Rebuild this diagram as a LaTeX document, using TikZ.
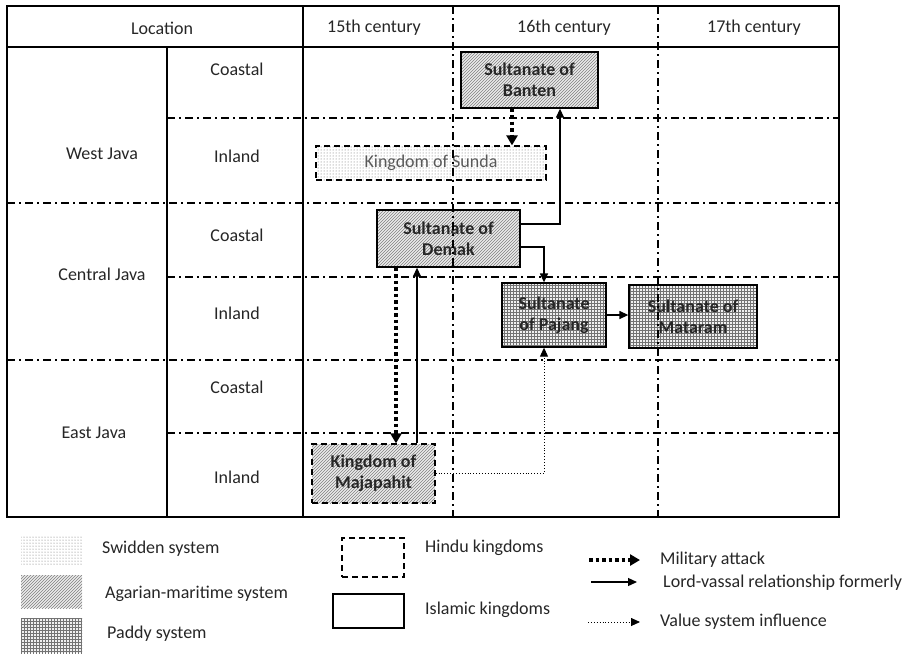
\documentclass[tikz,border=0pt]{standalone}
\usepackage{fontspec}
\setmainfont{Carlito}
\usetikzlibrary{patterns, arrows.meta}

\begin{document}
\begin{tikzpicture}[x=1pt, y=-1pt,
    every node/.style={font=\fontsize{18}{21}\selectfont, text=black!85},
    kingdom/.style={rectangle, draw, line width=1.3pt, align=center, inner sep=0pt, font=\fontsize{18}{21}\selectfont\bfseries},
    hindu/.style={kingdom, dash pattern=on 6pt off 4pt},
    islamic/.style={kingdom},
    swidden/.style={pattern=dots, pattern color=black!60},
    maritime/.style={preaction={fill=black!8}, pattern=north east lines, pattern color=black!50},
    paddy/.style={preaction={fill=black!6}, pattern=grid, pattern color=black!55},
    label/.style={anchor=west, inner sep=0pt},
    border/.style={line width=1.3pt},
    divider/.style={line width=1.2pt, dash pattern=on 8pt off 4pt on 2pt off 4pt},
    attack/.style={line width=3.5pt, dash pattern=on 3.5pt off 3pt, ->, >={Triangle[length=10pt,width=11pt]}},
    vassal/.style={line width=1.3pt, ->, >={Triangle[length=9pt,width=8pt]}},
    influence/.style={line width=0.9pt, dotted, ->, >={Triangle[length=9pt,width=8pt]}}]

    \useasboundingbox (0,0) rectangle (912,654);

    % Table frame
    \draw [border] (7,6) rectangle (839,517);
    \draw [border] (7,47) -- (839,47);
    \draw [border] (167,47) -- (167,517);
    \draw [border] (303,6) -- (303,517);

    % Header
    \node (loc) at (162,28) {Location};
    \node (c15) at (374,28) {15th century};
    \node (c16) at (564,28) {16th century};
    \node (c17) at (754,28) {17th century};

    % Regions
    \node (west) at (102,154) {West Java};
    \node (central) at (102,274) {Central Java};
    \node (east) at (94,433) {East Java};
    \node (wcoast) at (237,69) {Coastal};
    \node (winland) at (237,156) {Inland};
    \node (ccoast) at (237,235) {Coastal};
    \node (cinland) at (237,313) {Inland};
    \node (ecoast) at (237,387) {Coastal};
    \node (einland) at (237,477) {Inland};

    % Kingdoms
    \node [islamic, maritime, minimum width=137pt, minimum height=56pt] (banten) at (529.5,80) {Sultanate of\\Banten};
    \node [hindu, swidden, font=\fontsize{18}{21}\selectfont, text=black!65, minimum width=230pt, minimum height=34pt] (sunda) at (431,163) {Kingdom of Sunda};
    \node [islamic, maritime, minimum width=143pt, minimum height=57pt] (demak) at (448.5,238.5) {Sultanate of\\Demak};
    \node [islamic, paddy, minimum width=104pt, minimum height=64pt] (pajang) at (554,315) {Sultanate\\of Pajang};
    \node [islamic, paddy, minimum width=128pt, minimum height=63pt] (mataram) at (693,316.5) {Sultanate of\\Mataram};
    \node [hindu, maritime, minimum width=123pt, minimum height=59pt] (majapahit) at (373.5,473.5) {Kingdom of\\Majapahit};

    % Dividers (over the boxes)
    \draw [divider] (167,118) -- (839,118);
    \draw [divider] (7,203) -- (839,203);
    \draw [divider] (167,277) -- (839,277);
    \draw [divider] (7,360) -- (839,360);
    \draw [divider] (167,433) -- (839,433);
    \draw [divider] (453,6) -- (453,517);
    \draw [divider] (658,6) -- (658,517);

    % Arrows
    \draw [attack] ([xshift=-17.5pt]banten.south) -- ([xshift=-17.5pt]banten.south |- sunda.north);
    \draw [vassal] ([yshift=14.5pt]demak.east) -| ([xshift=30.5pt]banten.south);
    \draw [vassal] ([yshift=-8.5pt]demak.east) -| ([xshift=-10pt]pajang.north);
    \draw [vassal] (pajang.east) -- (pajang.east -| mataram.west);
    \draw [attack] ([xshift=-52.5pt]demak.south) -- ([xshift=-52.5pt]demak.south |- majapahit.north);
    \draw [vassal] ([xshift=43.5pt]majapahit.north) -- ([xshift=43.5pt]majapahit.north |- demak.south);
    \draw [influence] (majapahit.east) -| ([xshift=-10pt]pajang.south);

    % Legend
    \node [swidden, minimum width=61pt, minimum height=30pt] (keyswid) at (51.5,550) {};
    \node [maritime, minimum width=61pt, minimum height=33pt] (keymar) at (51.5,591.5) {};
    \node [paddy, minimum width=61pt, minimum height=35pt] (keypad) at (51.5,635.5) {};
    \node [label] (tswid) at (102,549) {Swidden system};
    \node [label] (tmar) at (105,594) {Agarian-maritime system};
    \node [label] (tpad) at (107,634) {Paddy system};

    \node [hindu, minimum width=62pt, minimum height=39pt] (keyhindu) at (373,557.5) {};
    \node [islamic, minimum width=71pt, minimum height=34pt] (keyislam) at (368.5,611) {};
    \node [label] (thindu) at (425,548) {Hindu kingdoms};
    \node [label] (tislam) at (425,610) {Islamic kingdoms};

    \coordinate (atka) at (589,560);
    \coordinate (atkb) at (640,560);
    \coordinate (vasa) at (591,582);
    \coordinate (vasb) at (637,582);
    \coordinate (infa) at (588,622);
    \coordinate (infb) at (640,622);
    \draw [attack] (atka) -- (atkb);
    \draw [vassal] (vasa) -- (vasb);
    \draw [influence] (infa) -- (infb);
    \node [label] (tatk) at (660,560) {Military attack};
    \node [label] (tvas) at (663,583) {Lord-vassal relationship formerly};
    \node [label] (tinf) at (660,622) {Value system influence};
\end{tikzpicture}
\end{document}
